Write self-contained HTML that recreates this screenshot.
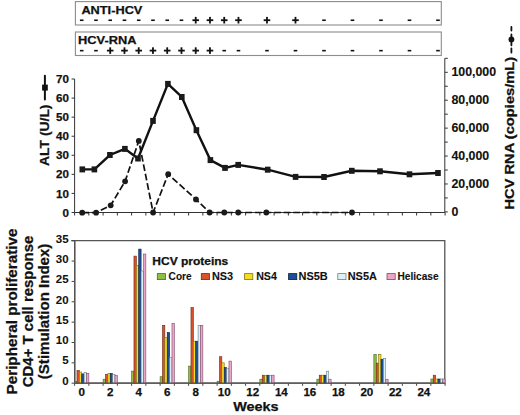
<!DOCTYPE html><html><head><meta charset="utf-8"><style>
html,body{margin:0;padding:0;background:#fff;width:520px;height:415px;overflow:hidden}
svg{display:block}
text{font-family:"Liberation Sans",sans-serif;font-weight:bold;fill:#111;stroke:#111;stroke-width:0.25px}
</style></head><body>
<svg width="520" height="415" viewBox="0 0 520 415">
<rect x="75.4" y="1.6" width="365.9" height="23.4" fill="none" stroke="#8c8c8c" stroke-width="1.1"/>
<rect x="75.4" y="32.0" width="365.9" height="23.5" fill="none" stroke="#8c8c8c" stroke-width="1.1"/>
<text x="81.4" y="14.3" font-size="11.3" textLength="61" lengthAdjust="spacingAndGlyphs">ANTI-HCV</text>
<text x="78.0" y="44.4" font-size="11.5" textLength="58.5" lengthAdjust="spacingAndGlyphs">HCV-RNA</text>
<rect x="79.92" y="19.45" width="3.6" height="1.6" fill="#111"/>
<rect x="94.17" y="19.45" width="3.6" height="1.6" fill="#111"/>
<rect x="108.42" y="19.45" width="3.6" height="1.6" fill="#111"/>
<rect x="122.67" y="19.45" width="3.6" height="1.6" fill="#111"/>
<rect x="136.92" y="19.45" width="3.6" height="1.6" fill="#111"/>
<rect x="151.17" y="19.45" width="3.6" height="1.6" fill="#111"/>
<rect x="165.42" y="19.45" width="3.6" height="1.6" fill="#111"/>
<rect x="179.67" y="19.45" width="3.6" height="1.6" fill="#111"/>
<rect x="192.42" y="19.30" width="6.6" height="1.8" fill="#111"/>
<rect x="194.82" y="16.90" width="1.8" height="6.6" fill="#111"/>
<rect x="206.67" y="19.30" width="6.6" height="1.8" fill="#111"/>
<rect x="209.07" y="16.90" width="1.8" height="6.6" fill="#111"/>
<rect x="220.92" y="19.30" width="6.6" height="1.8" fill="#111"/>
<rect x="223.32" y="16.90" width="1.8" height="6.6" fill="#111"/>
<rect x="235.17" y="19.30" width="6.6" height="1.8" fill="#111"/>
<rect x="237.57" y="16.90" width="1.8" height="6.6" fill="#111"/>
<rect x="263.68" y="19.30" width="6.6" height="1.8" fill="#111"/>
<rect x="266.08" y="16.90" width="1.8" height="6.6" fill="#111"/>
<rect x="292.18" y="19.30" width="6.6" height="1.8" fill="#111"/>
<rect x="294.58" y="16.90" width="1.8" height="6.6" fill="#111"/>
<rect x="322.18" y="19.45" width="3.6" height="1.6" fill="#111"/>
<rect x="350.68" y="19.45" width="3.6" height="1.6" fill="#111"/>
<rect x="379.18" y="19.45" width="3.6" height="1.6" fill="#111"/>
<rect x="407.68" y="19.45" width="3.6" height="1.6" fill="#111"/>
<rect x="436.18" y="19.45" width="3.6" height="1.6" fill="#111"/>
<rect x="79.92" y="49.85" width="3.6" height="1.6" fill="#111"/>
<rect x="94.17" y="49.85" width="3.6" height="1.6" fill="#111"/>
<rect x="106.92" y="49.70" width="6.6" height="1.8" fill="#111"/>
<rect x="109.32" y="47.30" width="1.8" height="6.6" fill="#111"/>
<rect x="121.17" y="49.70" width="6.6" height="1.8" fill="#111"/>
<rect x="123.57" y="47.30" width="1.8" height="6.6" fill="#111"/>
<rect x="135.42" y="49.70" width="6.6" height="1.8" fill="#111"/>
<rect x="137.82" y="47.30" width="1.8" height="6.6" fill="#111"/>
<rect x="149.67" y="49.70" width="6.6" height="1.8" fill="#111"/>
<rect x="152.07" y="47.30" width="1.8" height="6.6" fill="#111"/>
<rect x="163.92" y="49.70" width="6.6" height="1.8" fill="#111"/>
<rect x="166.32" y="47.30" width="1.8" height="6.6" fill="#111"/>
<rect x="178.17" y="49.70" width="6.6" height="1.8" fill="#111"/>
<rect x="180.57" y="47.30" width="1.8" height="6.6" fill="#111"/>
<rect x="192.42" y="49.70" width="6.6" height="1.8" fill="#111"/>
<rect x="194.82" y="47.30" width="1.8" height="6.6" fill="#111"/>
<rect x="206.67" y="49.70" width="6.6" height="1.8" fill="#111"/>
<rect x="209.07" y="47.30" width="1.8" height="6.6" fill="#111"/>
<rect x="222.42" y="49.85" width="3.6" height="1.6" fill="#111"/>
<rect x="236.67" y="49.85" width="3.6" height="1.6" fill="#111"/>
<rect x="265.18" y="49.85" width="3.6" height="1.6" fill="#111"/>
<rect x="293.68" y="49.85" width="3.6" height="1.6" fill="#111"/>
<rect x="322.18" y="49.85" width="3.6" height="1.6" fill="#111"/>
<rect x="350.68" y="49.85" width="3.6" height="1.6" fill="#111"/>
<rect x="379.18" y="49.85" width="3.6" height="1.6" fill="#111"/>
<rect x="407.68" y="49.85" width="3.6" height="1.6" fill="#111"/>
<rect x="436.18" y="49.85" width="3.6" height="1.6" fill="#111"/>
<path d="M74.6 79.01 V212.5 H444.8 V58.34" fill="none" stroke="#333" stroke-width="1"/>
<path d="M71.6 212.50 H74.6 M71.6 193.43 H74.6 M71.6 174.36 H74.6 M71.6 155.29 H74.6 M71.6 136.22 H74.6 M71.6 117.15 H74.6 M71.6 98.08 H74.6 M71.6 79.01 H74.6 M74.60 212.5 V215.5 M88.85 212.5 V215.5 M103.10 212.5 V215.5 M117.35 212.5 V215.5 M131.60 212.5 V215.5 M145.85 212.5 V215.5 M160.10 212.5 V215.5 M174.35 212.5 V215.5 M188.60 212.5 V215.5 M202.85 212.5 V215.5 M217.10 212.5 V215.5 M231.35 212.5 V215.5 M245.60 212.5 V215.5 M259.85 212.5 V215.5 M274.10 212.5 V215.5 M288.35 212.5 V215.5 M302.60 212.5 V215.5 M316.85 212.5 V215.5 M331.10 212.5 V215.5 M345.35 212.5 V215.5 M359.60 212.5 V215.5 M373.85 212.5 V215.5 M388.10 212.5 V215.5 M402.35 212.5 V215.5 M416.60 212.5 V215.5 M430.85 212.5 V215.5 M445.10 212.5 V215.5 M444.8 211.90 H447.8 M444.8 197.94 H447.8 M444.8 183.98 H447.8 M444.8 170.02 H447.8 M444.8 156.06 H447.8 M444.8 142.10 H447.8 M444.8 128.14 H447.8 M444.8 114.18 H447.8 M444.8 100.22 H447.8 M444.8 86.26 H447.8 M444.8 72.30 H447.8 M444.8 58.34 H447.8" fill="none" stroke="#333" stroke-width="1"/>
<text x="69" y="216.60" font-size="11.6" text-anchor="end">0</text>
<text x="69" y="197.53" font-size="11.6" text-anchor="end">10</text>
<text x="69" y="178.46" font-size="11.6" text-anchor="end">20</text>
<text x="69" y="159.39" font-size="11.6" text-anchor="end">30</text>
<text x="69" y="140.32" font-size="11.6" text-anchor="end">40</text>
<text x="69" y="121.25" font-size="11.6" text-anchor="end">50</text>
<text x="69" y="102.18" font-size="11.6" text-anchor="end">60</text>
<text x="69" y="83.11" font-size="11.6" text-anchor="end">70</text>
<text x="451.4" y="215.80" font-size="12" textLength="6.87" lengthAdjust="spacingAndGlyphs" style="stroke-width:0.12px">0</text>
<text x="451.4" y="187.88" font-size="12" textLength="37.80" lengthAdjust="spacingAndGlyphs" style="stroke-width:0.12px">20,000</text>
<text x="451.4" y="159.96" font-size="12" textLength="37.80" lengthAdjust="spacingAndGlyphs" style="stroke-width:0.12px">40,000</text>
<text x="451.4" y="132.04" font-size="12" textLength="37.80" lengthAdjust="spacingAndGlyphs" style="stroke-width:0.12px">60,000</text>
<text x="451.4" y="104.12" font-size="12" textLength="37.80" lengthAdjust="spacingAndGlyphs" style="stroke-width:0.12px">80,000</text>
<text x="451.4" y="76.20" font-size="12" textLength="44.67" lengthAdjust="spacingAndGlyphs" style="stroke-width:0.12px">100,000</text>
<polyline points="82.2,212.7 96.1,212.7 110.7,205.3 125.1,181.3 138.8,140.9 153.1,212.5 168.2,174.2 196.0,199.4 209.6,212.5 224.3,212.5 238.2,212.5 266.3,212.5 352.0,212.5" fill="none" stroke="#111" stroke-width="1.7" stroke-dasharray="6.8 2.8"/>
<polyline points="82.3,169.4 94.4,169.4 109.9,155.0 124.9,148.9 138.0,158.5 153.0,120.9 167.9,83.9 181.8,97.0 196.4,130.2 210.4,160.1 225.0,167.9 238.2,164.9 267.7,169.7 295.6,176.9 324.0,177.0 351.8,170.8 380.0,171.3 409.5,174.3 438.0,173.0" fill="none" stroke="#111" stroke-width="2.4" stroke-linejoin="miter"/>
<rect x="79.50" y="166.40" width="5.6" height="6" fill="#1a1a1a"/>
<rect x="91.60" y="166.40" width="5.6" height="6" fill="#1a1a1a"/>
<rect x="107.10" y="152.00" width="5.6" height="6" fill="#1a1a1a"/>
<rect x="122.10" y="145.90" width="5.6" height="6" fill="#1a1a1a"/>
<rect x="135.20" y="155.50" width="5.6" height="6" fill="#1a1a1a"/>
<rect x="150.20" y="117.90" width="5.6" height="6" fill="#1a1a1a"/>
<rect x="165.10" y="80.90" width="5.6" height="6" fill="#1a1a1a"/>
<rect x="179.00" y="94.00" width="5.6" height="6" fill="#1a1a1a"/>
<rect x="193.60" y="127.20" width="5.6" height="6" fill="#1a1a1a"/>
<rect x="207.60" y="157.10" width="5.6" height="6" fill="#1a1a1a"/>
<rect x="222.20" y="164.90" width="5.6" height="6" fill="#1a1a1a"/>
<rect x="235.40" y="161.90" width="5.6" height="6" fill="#1a1a1a"/>
<rect x="264.90" y="166.70" width="5.6" height="6" fill="#1a1a1a"/>
<rect x="292.80" y="173.90" width="5.6" height="6" fill="#1a1a1a"/>
<rect x="321.20" y="174.00" width="5.6" height="6" fill="#1a1a1a"/>
<rect x="349.00" y="167.80" width="5.6" height="6" fill="#1a1a1a"/>
<rect x="377.20" y="168.30" width="5.6" height="6" fill="#1a1a1a"/>
<rect x="406.70" y="171.30" width="5.6" height="6" fill="#1a1a1a"/>
<rect x="435.20" y="170.00" width="5.6" height="6" fill="#1a1a1a"/>
<circle cx="82.2" cy="212.7" r="2.9" fill="#1a1a1a"/>
<circle cx="96.1" cy="212.7" r="2.9" fill="#1a1a1a"/>
<circle cx="110.7" cy="205.3" r="2.9" fill="#1a1a1a"/>
<circle cx="125.1" cy="181.3" r="2.9" fill="#1a1a1a"/>
<circle cx="138.8" cy="140.9" r="2.9" fill="#1a1a1a"/>
<circle cx="153.1" cy="212.5" r="2.9" fill="#1a1a1a"/>
<circle cx="168.2" cy="174.2" r="2.9" fill="#1a1a1a"/>
<circle cx="196.0" cy="199.4" r="2.9" fill="#1a1a1a"/>
<circle cx="209.6" cy="212.5" r="2.9" fill="#1a1a1a"/>
<circle cx="224.3" cy="212.5" r="2.9" fill="#1a1a1a"/>
<circle cx="238.2" cy="212.5" r="2.9" fill="#1a1a1a"/>
<circle cx="266.3" cy="212.5" r="2.9" fill="#1a1a1a"/>
<circle cx="352.0" cy="212.5" r="2.9" fill="#1a1a1a"/>
<path d="M44.9 75.8 V99.4" stroke="#111" stroke-width="2" stroke-linecap="round"/>
<rect x="42.1" y="84.6" width="5.7" height="6" fill="#111"/>
<text transform="translate(49.2,165.9) rotate(-90)" font-size="12.8" textLength="61.4" lengthAdjust="spacingAndGlyphs">ALT (U/L)</text>
<path d="M511.4 27 V30.6 M511.4 34.4 V45.3 M511.4 48.5 V52.6" stroke="#111" stroke-width="1.8" stroke-linecap="round"/>
<circle cx="511.4" cy="39.4" r="2.9" fill="#111"/>
<text transform="translate(513.9,209.6) rotate(-90)" font-size="11.9" textLength="152.8" lengthAdjust="spacingAndGlyphs">HCV RNA (copies/mL)</text>
<path d="M71.3 240.72 H444.8 V383.2 H74.7 V240.72" fill="none" stroke="#555" stroke-width="1.3"/>
<path d="M71.6 383.20 H74.6 M71.6 362.84 H74.6 M71.6 342.49 H74.6 M71.6 322.13 H74.6 M71.6 301.78 H74.6 M71.6 281.43 H74.6 M71.6 261.07 H74.6 M71.6 240.72 H74.6 M74.60 383.2 V385.8 M88.85 383.2 V385.8 M103.10 383.2 V385.8 M117.35 383.2 V385.8 M131.60 383.2 V385.8 M145.85 383.2 V385.8 M160.10 383.2 V385.8 M174.35 383.2 V385.8 M188.60 383.2 V385.8 M202.85 383.2 V385.8 M217.10 383.2 V385.8 M231.35 383.2 V385.8 M245.60 383.2 V385.8 M259.85 383.2 V385.8 M274.10 383.2 V385.8 M288.35 383.2 V385.8 M302.60 383.2 V385.8 M316.85 383.2 V385.8 M331.10 383.2 V385.8 M345.35 383.2 V385.8 M359.60 383.2 V385.8 M373.85 383.2 V385.8 M388.10 383.2 V385.8 M402.35 383.2 V385.8 M416.60 383.2 V385.8 M430.85 383.2 V385.8 M445.10 383.2 V385.8" fill="none" stroke="#444" stroke-width="1"/>
<text x="68.6" y="384.65" font-size="11.5" text-anchor="end" style="stroke-width:0.05px">0</text>
<text x="68.6" y="364.38" font-size="11.5" text-anchor="end" style="stroke-width:0.05px">5</text>
<text x="68.6" y="344.11" font-size="11.5" text-anchor="end" style="stroke-width:0.05px">10</text>
<text x="68.6" y="323.84" font-size="11.5" text-anchor="end" style="stroke-width:0.05px">15</text>
<text x="68.6" y="303.57" font-size="11.5" text-anchor="end" style="stroke-width:0.05px">20</text>
<text x="68.6" y="283.30" font-size="11.5" text-anchor="end" style="stroke-width:0.05px">25</text>
<text x="68.6" y="263.03" font-size="11.5" text-anchor="end" style="stroke-width:0.05px">30</text>
<text x="68.6" y="242.76" font-size="11.5" text-anchor="end" style="stroke-width:0.05px">35</text>
<text x="81.82" y="396.4" font-size="11.6" text-anchor="middle">0</text>
<text x="110.32" y="396.4" font-size="11.6" text-anchor="middle">2</text>
<text x="138.82" y="396.4" font-size="11.6" text-anchor="middle">4</text>
<text x="167.32" y="396.4" font-size="11.6" text-anchor="middle">6</text>
<text x="195.82" y="396.4" font-size="11.6" text-anchor="middle">8</text>
<text x="224.32" y="396.4" font-size="11.6" text-anchor="middle">10</text>
<text x="252.82" y="396.4" font-size="11.6" text-anchor="middle">12</text>
<text x="281.33" y="396.4" font-size="11.6" text-anchor="middle">14</text>
<text x="309.83" y="396.4" font-size="11.6" text-anchor="middle">16</text>
<text x="338.33" y="396.4" font-size="11.6" text-anchor="middle">18</text>
<text x="366.83" y="396.4" font-size="11.6" text-anchor="middle">20</text>
<text x="395.33" y="396.4" font-size="11.6" text-anchor="middle">22</text>
<text x="423.83" y="396.4" font-size="11.6" text-anchor="middle">24</text>
<text x="233.2" y="410.9" font-size="13" textLength="45.4" lengthAdjust="spacingAndGlyphs">Weeks</text>
<text transform="translate(16.9,394.4) rotate(-90)" font-size="14.3" textLength="165.8" lengthAdjust="spacingAndGlyphs">Peripheral proliferative</text>
<text transform="translate(33.2,387.2) rotate(-90)" font-size="14.3" textLength="151.5" lengthAdjust="spacingAndGlyphs">CD4+ T cell response</text>
<text transform="translate(48.6,379.2) rotate(-90)" font-size="14.3" textLength="135.6" lengthAdjust="spacingAndGlyphs">(Stimulation Index)</text>
<rect x="74.60" y="381.50" width="2.38" height="1.70" fill="#8cc045" stroke="#4a6a22" stroke-width="0.6"/>
<rect x="76.97" y="370.50" width="2.38" height="12.70" fill="#d8532c" stroke="#6e2a14" stroke-width="0.6"/>
<rect x="79.35" y="372.00" width="2.38" height="11.20" fill="#f4dc1e" stroke="#8a7212" stroke-width="0.6"/>
<rect x="81.72" y="373.90" width="2.38" height="9.30" fill="#1d4e96" stroke="#0a2044" stroke-width="0.6"/>
<rect x="84.10" y="372.30" width="2.38" height="10.90" fill="#dcf0f8" stroke="#6a8088" stroke-width="0.6"/>
<rect x="86.47" y="373.30" width="2.38" height="9.90" fill="#eba5c9" stroke="#7e4c6a" stroke-width="0.6"/>
<rect x="103.10" y="379.20" width="2.38" height="4.00" fill="#8cc045" stroke="#4a6a22" stroke-width="0.6"/>
<rect x="105.47" y="374.40" width="2.38" height="8.80" fill="#d8532c" stroke="#6e2a14" stroke-width="0.6"/>
<rect x="107.85" y="373.50" width="2.38" height="9.70" fill="#f4dc1e" stroke="#8a7212" stroke-width="0.6"/>
<rect x="110.22" y="373.50" width="2.38" height="9.70" fill="#1d4e96" stroke="#0a2044" stroke-width="0.6"/>
<rect x="112.60" y="374.40" width="2.38" height="8.80" fill="#dcf0f8" stroke="#6a8088" stroke-width="0.6"/>
<rect x="114.97" y="375.40" width="2.38" height="7.80" fill="#eba5c9" stroke="#7e4c6a" stroke-width="0.6"/>
<rect x="131.60" y="371.10" width="2.38" height="12.10" fill="#8cc045" stroke="#4a6a22" stroke-width="0.6"/>
<rect x="133.97" y="256.10" width="2.38" height="127.10" fill="#d8532c" stroke="#6e2a14" stroke-width="0.6"/>
<rect x="136.35" y="265.30" width="2.38" height="117.90" fill="#f4dc1e" stroke="#8a7212" stroke-width="0.6"/>
<rect x="138.72" y="249.10" width="2.38" height="134.10" fill="#1d4e96" stroke="#0a2044" stroke-width="0.6"/>
<rect x="141.10" y="271.00" width="2.38" height="112.20" fill="#dcf0f8" stroke="#6a8088" stroke-width="0.6"/>
<rect x="143.47" y="254.00" width="2.38" height="129.20" fill="#eba5c9" stroke="#7e4c6a" stroke-width="0.6"/>
<rect x="160.10" y="376.70" width="2.38" height="6.50" fill="#8cc045" stroke="#4a6a22" stroke-width="0.6"/>
<rect x="162.47" y="325.30" width="2.38" height="57.90" fill="#d8532c" stroke="#6e2a14" stroke-width="0.6"/>
<rect x="164.85" y="337.60" width="2.38" height="45.60" fill="#f4dc1e" stroke="#8a7212" stroke-width="0.6"/>
<rect x="167.22" y="332.50" width="2.38" height="50.70" fill="#1d4e96" stroke="#0a2044" stroke-width="0.6"/>
<rect x="169.60" y="357.70" width="2.38" height="25.50" fill="#dcf0f8" stroke="#6a8088" stroke-width="0.6"/>
<rect x="171.97" y="323.50" width="2.38" height="59.70" fill="#eba5c9" stroke="#7e4c6a" stroke-width="0.6"/>
<rect x="188.60" y="366.10" width="2.38" height="17.10" fill="#8cc045" stroke="#4a6a22" stroke-width="0.6"/>
<rect x="190.97" y="307.60" width="2.38" height="75.60" fill="#d8532c" stroke="#6e2a14" stroke-width="0.6"/>
<rect x="193.35" y="341.20" width="2.38" height="42.00" fill="#f4dc1e" stroke="#8a7212" stroke-width="0.6"/>
<rect x="195.72" y="341.20" width="2.38" height="42.00" fill="#1d4e96" stroke="#0a2044" stroke-width="0.6"/>
<rect x="198.10" y="325.60" width="2.38" height="57.60" fill="#dcf0f8" stroke="#6a8088" stroke-width="0.6"/>
<rect x="200.47" y="325.60" width="2.38" height="57.60" fill="#eba5c9" stroke="#7e4c6a" stroke-width="0.6"/>
<rect x="217.10" y="381.20" width="2.38" height="2.00" fill="#8cc045" stroke="#4a6a22" stroke-width="0.6"/>
<rect x="219.47" y="356.70" width="2.38" height="26.50" fill="#d8532c" stroke="#6e2a14" stroke-width="0.6"/>
<rect x="221.85" y="362.80" width="2.38" height="20.40" fill="#f4dc1e" stroke="#8a7212" stroke-width="0.6"/>
<rect x="224.22" y="367.60" width="2.38" height="15.60" fill="#1d4e96" stroke="#0a2044" stroke-width="0.6"/>
<rect x="226.60" y="368.20" width="2.38" height="15.00" fill="#dcf0f8" stroke="#6a8088" stroke-width="0.6"/>
<rect x="228.97" y="361.10" width="2.38" height="22.10" fill="#eba5c9" stroke="#7e4c6a" stroke-width="0.6"/>
<rect x="259.85" y="379.20" width="2.38" height="4.00" fill="#8cc045" stroke="#4a6a22" stroke-width="0.6"/>
<rect x="262.23" y="375.20" width="2.38" height="8.00" fill="#d8532c" stroke="#6e2a14" stroke-width="0.6"/>
<rect x="264.60" y="375.50" width="2.38" height="7.70" fill="#f4dc1e" stroke="#8a7212" stroke-width="0.6"/>
<rect x="266.98" y="375.20" width="2.38" height="8.00" fill="#1d4e96" stroke="#0a2044" stroke-width="0.6"/>
<rect x="269.35" y="375.50" width="2.38" height="7.70" fill="#dcf0f8" stroke="#6a8088" stroke-width="0.6"/>
<rect x="271.73" y="375.20" width="2.38" height="8.00" fill="#eba5c9" stroke="#7e4c6a" stroke-width="0.6"/>
<rect x="316.85" y="379.20" width="2.38" height="4.00" fill="#8cc045" stroke="#4a6a22" stroke-width="0.6"/>
<rect x="319.23" y="375.20" width="2.38" height="8.00" fill="#d8532c" stroke="#6e2a14" stroke-width="0.6"/>
<rect x="321.60" y="375.20" width="2.38" height="8.00" fill="#f4dc1e" stroke="#8a7212" stroke-width="0.6"/>
<rect x="323.98" y="375.20" width="2.38" height="8.00" fill="#1d4e96" stroke="#0a2044" stroke-width="0.6"/>
<rect x="326.35" y="371.20" width="2.38" height="12.00" fill="#dcf0f8" stroke="#6a8088" stroke-width="0.6"/>
<rect x="328.73" y="379.20" width="2.38" height="4.00" fill="#eba5c9" stroke="#7e4c6a" stroke-width="0.6"/>
<rect x="373.85" y="354.40" width="2.38" height="28.80" fill="#8cc045" stroke="#4a6a22" stroke-width="0.6"/>
<rect x="376.23" y="363.10" width="2.38" height="20.10" fill="#d8532c" stroke="#6e2a14" stroke-width="0.6"/>
<rect x="378.60" y="354.40" width="2.38" height="28.80" fill="#f4dc1e" stroke="#8a7212" stroke-width="0.6"/>
<rect x="380.98" y="359.20" width="2.38" height="24.00" fill="#1d4e96" stroke="#0a2044" stroke-width="0.6"/>
<rect x="383.35" y="358.30" width="2.38" height="24.90" fill="#dcf0f8" stroke="#6a8088" stroke-width="0.6"/>
<rect x="385.73" y="379.30" width="2.38" height="3.90" fill="#eba5c9" stroke="#7e4c6a" stroke-width="0.6"/>
<rect x="430.85" y="379.00" width="2.38" height="4.20" fill="#8cc045" stroke="#4a6a22" stroke-width="0.6"/>
<rect x="433.23" y="375.20" width="2.38" height="8.00" fill="#d8532c" stroke="#6e2a14" stroke-width="0.6"/>
<rect x="435.60" y="379.00" width="2.38" height="4.20" fill="#f4dc1e" stroke="#8a7212" stroke-width="0.6"/>
<rect x="437.98" y="379.00" width="2.38" height="4.20" fill="#1d4e96" stroke="#0a2044" stroke-width="0.6"/>
<rect x="440.35" y="379.00" width="2.38" height="4.20" fill="#dcf0f8" stroke="#6a8088" stroke-width="0.6"/>
<rect x="442.73" y="379.00" width="2.38" height="4.20" fill="#eba5c9" stroke="#7e4c6a" stroke-width="0.6"/>
<path d="M74.7 240.72 V383.2 H444.8" fill="none" stroke="#555" stroke-width="1.3"/>
<text x="152.3" y="264.9" font-size="10.2" textLength="76" lengthAdjust="spacingAndGlyphs">HCV proteins</text>
<rect x="157.3" y="273.6" width="8.2" height="6" fill="#8cc045" stroke="#4a6a22" stroke-width="0.8"/>
<text x="168.6" y="280.2" font-size="10.4" textLength="23" lengthAdjust="spacingAndGlyphs" style="stroke-width:0.1px">Core</text>
<rect x="201.3" y="273.6" width="8.2" height="6" fill="#d8532c" stroke="#6e2a14" stroke-width="0.8"/>
<text x="211.9" y="280.2" font-size="10.4" textLength="21.2" lengthAdjust="spacingAndGlyphs" style="stroke-width:0.1px">NS3</text>
<rect x="244.6" y="273.6" width="8.2" height="6" fill="#f4dc1e" stroke="#8a7212" stroke-width="0.8"/>
<text x="256.2" y="280.2" font-size="10.4" textLength="20.7" lengthAdjust="spacingAndGlyphs" style="stroke-width:0.1px">NS4</text>
<rect x="288.6" y="273.6" width="8.2" height="6" fill="#1d4e96" stroke="#0a2044" stroke-width="0.8"/>
<text x="298.5" y="280.2" font-size="10.4" textLength="29.2" lengthAdjust="spacingAndGlyphs" style="stroke-width:0.1px">NS5B</text>
<rect x="337.8" y="273.6" width="8.2" height="6" fill="#dcf0f8" stroke="#6a8088" stroke-width="0.8"/>
<text x="347.7" y="280.2" font-size="10.4" textLength="29.2" lengthAdjust="spacingAndGlyphs" style="stroke-width:0.1px">NS5A</text>
<rect x="387.0" y="273.6" width="8.2" height="6" fill="#eba5c9" stroke="#7e4c6a" stroke-width="0.8"/>
<text x="397.5" y="280.2" font-size="10.4" textLength="41" lengthAdjust="spacingAndGlyphs" style="stroke-width:0.1px">Helicase</text>
</svg></body></html>
